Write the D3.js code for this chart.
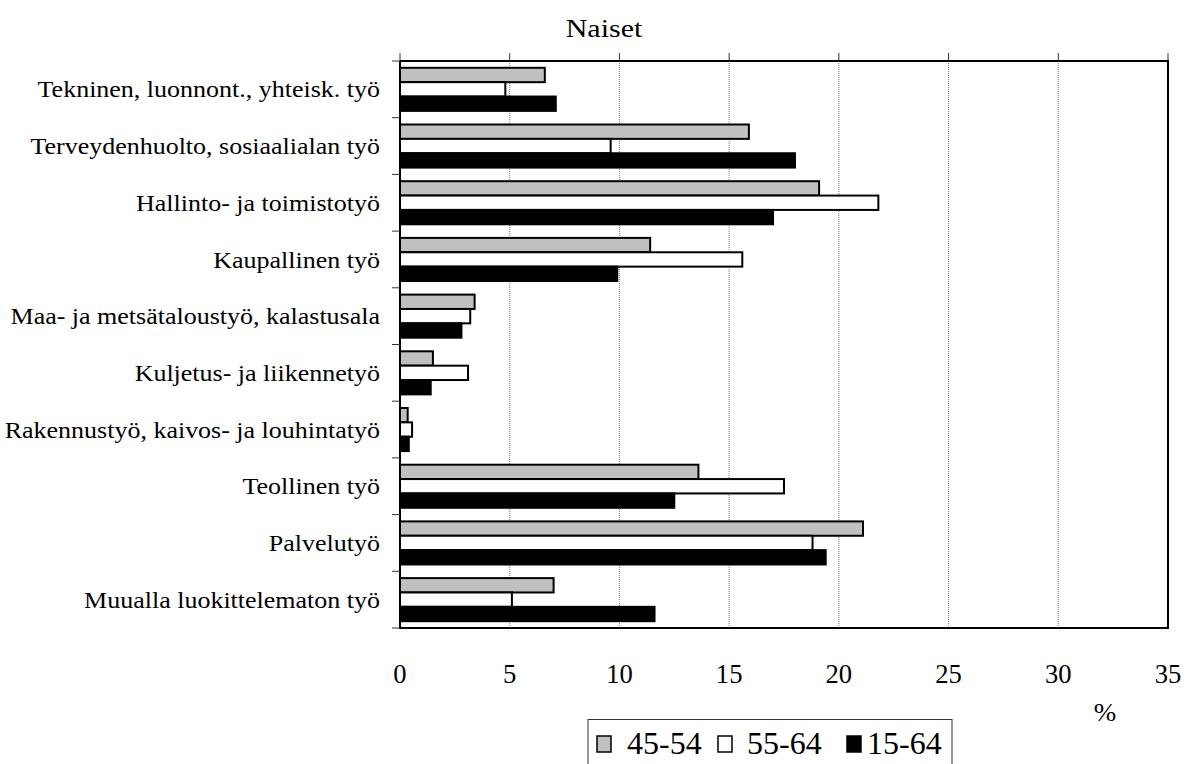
<!DOCTYPE html>
<html>
<head>
<meta charset="utf-8">
<script src="https://cdn.jsdelivr.net/npm/d3@7"></script>
<style>
  html, body { margin: 0; padding: 0; background: #fff; }
  svg { display: block; }
</style>
</head>
<body>
<svg id="chart" width="1187" height="764"></svg>
<script>
const categories = [
  "Tekninen, luonnont., yhteisk. työ",
  "Terveydenhuolto, sosiaalialan työ",
  "Hallinto- ja toimistotyö",
  "Kaupallinen työ",
  "Maa- ja metsätaloustyö, kalastusala",
  "Kuljetus- ja liikennetyö",
  "Rakennustyö, kaivos- ja louhintatyö",
  "Teollinen työ",
  "Palvelutyö",
  "Muualla luokittelematon työ"
];
const seriesNames = ["45-54", "55-64", "15-64"];
const values4554 = [6.6, 15.9, 19.1, 11.4, 3.4, 1.5, 0.35, 13.6, 21.1, 7.0];
const values5564 = [4.8, 9.6, 21.8, 15.6, 3.2, 3.1, 0.55, 17.5, 18.8, 5.1];
const values1564 = [7.1, 18.0, 17.0, 9.9, 2.8, 1.4, 0.4, 12.5, 19.4, 11.6];
const seriesColors = ["#c0c0c0", "#ffffff", "#000000"];
const xTicks = [0, 5, 10, 15, 20, 25, 30, 35];
const title = "Naiset";
const unitLabel = "%";

const seriesValues = [values4554, values5564, values1564];
const FONT = "'Liberation Serif', 'Times New Roman', serif";
const BASE = 20; // base font size, enlarged with a transform

const svg = d3.select("#chart");
const L = 400, R = 1168, T = 61, B = 628;

const x = d3.scaleLinear().domain([0, 35]).range([L, R]);
const y = d3.scaleBand().domain(categories).range([T, B]).padding(0);
const bw = y.bandwidth();
const ys = d3.scaleBand().domain(seriesNames).range([bw * 0.12, bw * 0.88]).padding(0);

function addText(sel, tx, ty, str, sx, sy, anchor, dy) {
  return sel.append("text")
    .attr("transform", `translate(${tx},${ty}) scale(${sx},${sy})`)
    .attr("text-anchor", anchor || "start")
    .attr("dy", dy || null)
    .attr("font-family", FONT)
    .attr("font-size", BASE)
    .attr("fill", "#000")
    .text(str);
}

// gridlines
svg.append("g").selectAll("line").data(xTicks.filter(t => t > 0 && t < 35)).join("line")
  .attr("x1", d => x(d)).attr("x2", d => x(d))
  .attr("y1", T).attr("y2", B)
  .attr("stroke", "#808080").attr("stroke-width", 1).attr("stroke-dasharray", "1,1");

// top ticks
svg.append("g").selectAll("line").data(xTicks).join("line")
  .attr("x1", d => x(d)).attr("x2", d => x(d))
  .attr("y1", T - 8).attr("y2", T)
  .attr("stroke", "#333").attr("stroke-width", 1);

// bars
const groups = svg.append("g").selectAll("g").data(categories).join("g")
  .attr("transform", d => `translate(0,${y(d)})`);
groups.selectAll("rect").data((c, i) => seriesNames.map((s, j) => ({ s, j, v: seriesValues[j][i] })))
  .join("rect")
  .attr("x", x(0))
  .attr("y", d => ys(d.s))
  .attr("width", d => x(d.v) - x(0))
  .attr("height", ys.bandwidth())
  .attr("fill", d => seriesColors[d.j])
  .attr("stroke", "#000").attr("stroke-width", 2);

// frame: top, right, bottom
svg.append("path")
  .attr("d", `M${L},${T}H${R}V${B}H${L}`)
  .attr("fill", "none").attr("stroke", "#000").attr("stroke-width", 2);

// left axis
const yAxisG = svg.append("g");
yAxisG.append("line").attr("x1", L).attr("x2", L).attr("y1", T).attr("y2", B + 1)
  .attr("stroke", "#000").attr("stroke-width", 2);
const boundaries = categories.map(c => y(c)).concat([B]);
yAxisG.selectAll("line.tk").data(boundaries).join("line").attr("class", "tk")
  .attr("x1", L - 8).attr("x2", L).attr("y1", d => d).attr("y2", d => d)
  .attr("stroke", "#333").attr("stroke-width", 1);

// category labels
const catG = svg.append("g");
categories.forEach(c => addText(catG, 380, y(c) + bw / 2, c, 1.3, 1.16, "end", "0.35em"));

// x tick labels (bottom)
const tickG = svg.append("g");
xTicks.forEach(t => addText(tickG, x(t), 683, String(t), 1.33, 1.33, "middle"));

// unit label
addText(svg, 1105, 721, unitLabel, 1.35, 1.3, "middle");

// title
addText(svg, 604, 37, title, 1.5, 1.3, "middle");

// legend
const lg = svg.append("g");
lg.append("rect").attr("x", 588).attr("y", 719.5).attr("width", 364).attr("height", 60)
  .attr("fill", "#fff").attr("stroke", "#333").attr("stroke-width", 1);
const legendSq = [597, 718, 847];
const legendTx = [627, 747, 867];
seriesNames.forEach((s, j) => {
  lg.append("rect").attr("x", legendSq[j]).attr("y", 736).attr("width", 14).attr("height", 16)
    .attr("fill", seriesColors[j]).attr("stroke", "#000").attr("stroke-width", 1.5);
  addText(lg, legendTx[j], 754, s, 1.6, 1.55, "start");
});
</script>
</body>
</html>
